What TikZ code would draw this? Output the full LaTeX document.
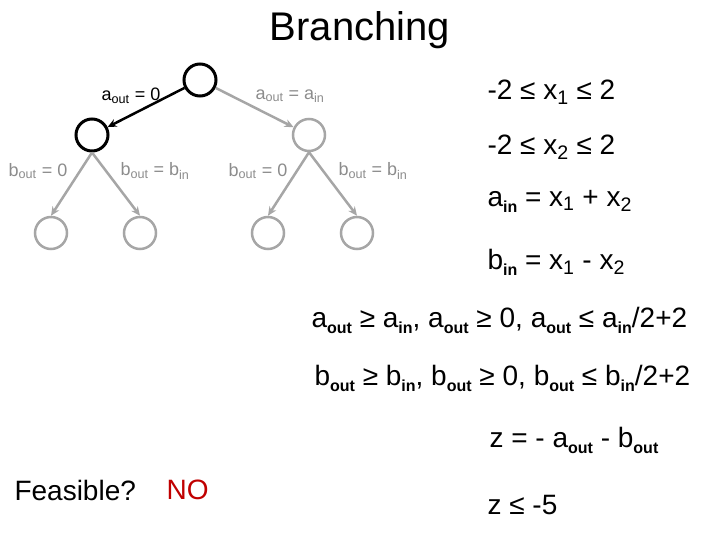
\documentclass[tikz,border=0pt]{standalone}
\usepackage{fontspec}
\setmainfont{Liberation Sans}
\usetikzlibrary{arrows.meta}
\definecolor{edgegray}{HTML}{A6A6A6}
\definecolor{labelgray}{HTML}{8C8C8C}
\definecolor{nored}{HTML}{C00000}
% small bold subscript for the constraint lines
\newcommand{\bsub}[1]{\raisebox{-6pt}{\fontsize{16}{16}\selectfont\bfseries #1}}
\tikzset{
  bnode/.style={draw, circle, minimum size=32pt, inner sep=0pt},
  active/.style={line width=3pt, black},
  open/.style={line width=2.5pt, edgegray},
  barrow/.style={-{Stealth[length=9pt,width=8pt]}},
  blabel/.style={font=\fontsize{18}{20}\selectfont},
  constr/.style={font=\fontsize{28}{32}\selectfont, anchor=west}
}
\begin{document}
\begin{tikzpicture}[x=1pt,y=-1pt]
  \useasboundingbox (0,0) rectangle (720,540);
  % Title
  \node[font=\fontsize{40}{44}\selectfont] (title) at (360,30) {Branching};
  % Tree nodes
  \node[bnode, active] (root) at (200,80) {};
  \node[bnode, active] (left) at (92,135) {};
  \node[bnode, open] (right) at (309,135) {};
  \node[bnode, open] (ll) at (51,233) {};
  \node[bnode, open] (lr) at (140,233) {};
  \node[bnode, open] (rl) at (268,233) {};
  \node[bnode, open] (rr) at (357,233) {};
  % Branches on a
  \draw[barrow, active, line width=2.5pt] (root) -- (left);
  \draw[barrow, open] (root) -- (right);
  % Branches on b
  \draw[barrow, open] (left.south) -- (ll.north);
  \draw[barrow, open] (left.south) -- (lr.north);
  \draw[barrow, open] (right.south) -- (rl.north);
  \draw[barrow, open] (right.south) -- (rr.north);
  % Branch labels
  \node[blabel] (la) at (131,96) {a\textsubscript{out} = 0};
  \node[blabel, labelgray] (ra) at (290,96) {a\textsubscript{out} = a\textsubscript{in}};
  \node[blabel, labelgray] (lb0) at (38,171) {b\textsubscript{out} = 0};
  \node[blabel, labelgray] (lb1) at (155,171) {b\textsubscript{out} = b\textsubscript{in}};
  \node[blabel, labelgray] (rb0) at (258,171) {b\textsubscript{out} = 0};
  \node[blabel, labelgray] (rb1) at (373,171) {b\textsubscript{out} = b\textsubscript{in}};
  % Constraints
  \node[constr] (x1) at (484,92) {-2 ≤ x\textsubscript{1} ≤ 2};
  \node[constr] (x2) at (484,147) {-2 ≤ x\textsubscript{2} ≤ 2};
  \node[constr] (ain) at (484,201) {a\bsub{in} = x\textsubscript{1} + x\textsubscript{2}};
  \node[constr] (bin) at (484,262) {b\bsub{in} = x\textsubscript{1} - x\textsubscript{2}};
  \node[constr] (aout) at (308,320) {a\bsub{out} ≥ a\bsub{in}, a\bsub{out} ≥ 0, a\bsub{out} ≤ a\bsub{in}/2+2};
  \node[constr] (bout) at (311,378) {b\bsub{out} ≥ b\bsub{in}, b\bsub{out} ≥ 0, b\bsub{out} ≤ b\bsub{in}/2+2};
  \node[constr] (obj) at (486,440) {z = - a\bsub{out} - b\bsub{out}};
  \node[constr] (bound) at (484,505) {z ≤ -5};
  % Verdict
  \node[constr] (feas) at (11,490) {Feasible?};
  \node[constr, nored] (no) at (163,490) {NO};
\end{tikzpicture}
\end{document}
